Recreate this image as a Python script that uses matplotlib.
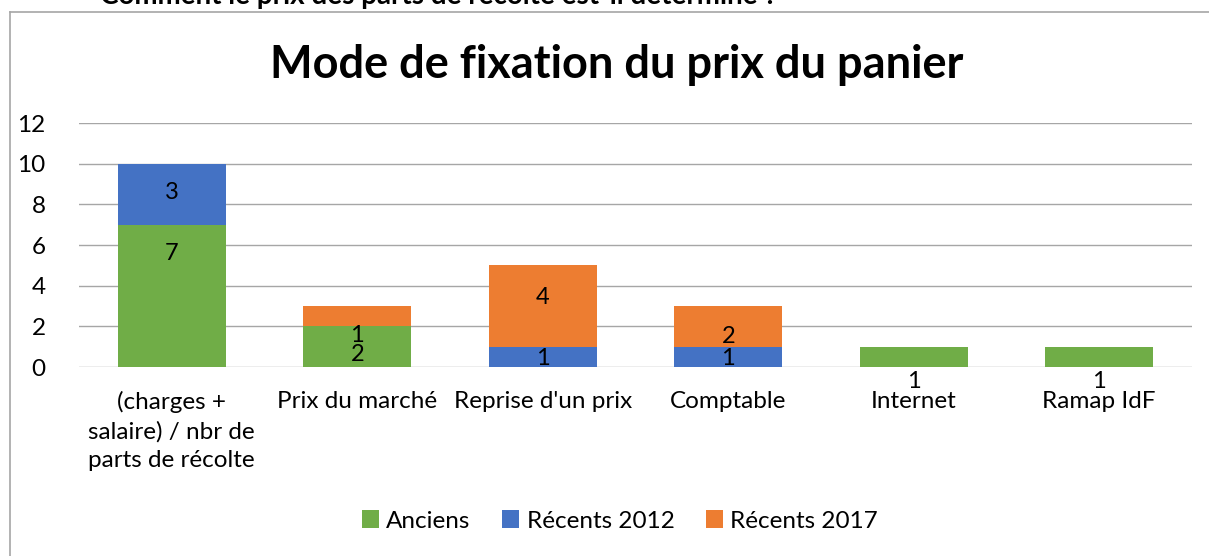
import matplotlib.pyplot as plt
import numpy as np

categories = ['(charges +\nsalaire) / nbr de\nparts de récolte', 'Prix du marché',
              "Reprise d'un prix", 'Comptable', 'Internet', 'Ramap IdF']
anciens = [7, 2, 0, 0, 1, 1]
recents_2012 = [3, 0, 1, 1, 0, 0]
recents_2017 = [0, 1, 4, 2, 0, 0]
series_names = ['Anciens', 'Récents 2012', 'Récents 2017']
colors = ['#70AD47', '#4472C4', '#ED7D31']

# where the data labels sit (data units)
label_y_anciens = [5.56, 0.6, None, None, -0.72, -0.72]
label_y_2012 = [8.56, None, 0.44, 0.44, None, None]
label_y_2017 = [None, 1.57, 3.44, 1.52, None, None]

plt.rcParams['font.family'] = ['Lato', 'DejaVu Sans']

fig = plt.figure(figsize=(12.09, 5.56), dpi=100)
ax = fig.add_axes([79 / 1209, 1 - 367 / 556, (1192 - 79) / 1209, 244 / 556])

x = np.arange(len(categories))
w = 0.58
bottom = np.zeros(len(categories))
all_vals = [anciens, recents_2012, recents_2017]
all_lab = [label_y_anciens, label_y_2012, label_y_2017]
for vals, name, col, laby in zip(all_vals, series_names, colors, all_lab):
    ax.bar(x, vals, w, bottom=bottom, color=col, label=name, zorder=2)
    for i, v in enumerate(vals):
        if v and laby[i] is not None:
            ax.text(x[i], laby[i], str(v), ha='center', va='center', fontsize=17, zorder=3)
    bottom += np.array(vals)

ax.set_xlim(-0.5, len(categories) - 0.5)
ax.set_ylim(0, 12)
ax.set_yticks(range(0, 13, 2))
ax.yaxis.grid(True, color='#a6a6a6', linewidth=1, zorder=0)
ax.set_axisbelow(True)
for s in ax.spines.values():
    s.set_visible(False)
ax.tick_params(axis='both', length=0, labelsize=17.5)
ax.tick_params(axis='y', pad=24)
ax.set_xticks(x)
ax.set_xticklabels(categories, va='top', linespacing=1.45)
ax.tick_params(axis='x', pad=17)

fig.text(617 / 1209, 1 - 65 / 556, 'Mode de fixation du prix du panier', ha='center', va='center',
         fontsize=32.5, fontweight='bold')

fig.legend(loc='center', bbox_to_anchor=(620 / 1209, 1 - 521 / 556), ncol=3, frameon=False,
           fontsize=17.5, handlelength=0.7, handleheight=0.7, handletextpad=0.3, columnspacing=1.3)

# chart border (left and top only visible)
fig.add_artist(plt.Line2D([10 / 1209, 10 / 1209], [0, 1 - 12 / 556], color='#a6a6a6', lw=1.2))
fig.add_artist(plt.Line2D([10 / 1209, 1], [1 - 12 / 556, 1 - 12 / 556], color='#a6a6a6', lw=1.2))

# cut-off heading above the chart
fig.text(100 / 1209, 1 - 4 / 556, 'Comment le prix des parts de récolte est-il déterminé ?',
         ha='left', va='baseline', fontsize=20, fontweight='bold')

fig.savefig('out.png', dpi=100)
